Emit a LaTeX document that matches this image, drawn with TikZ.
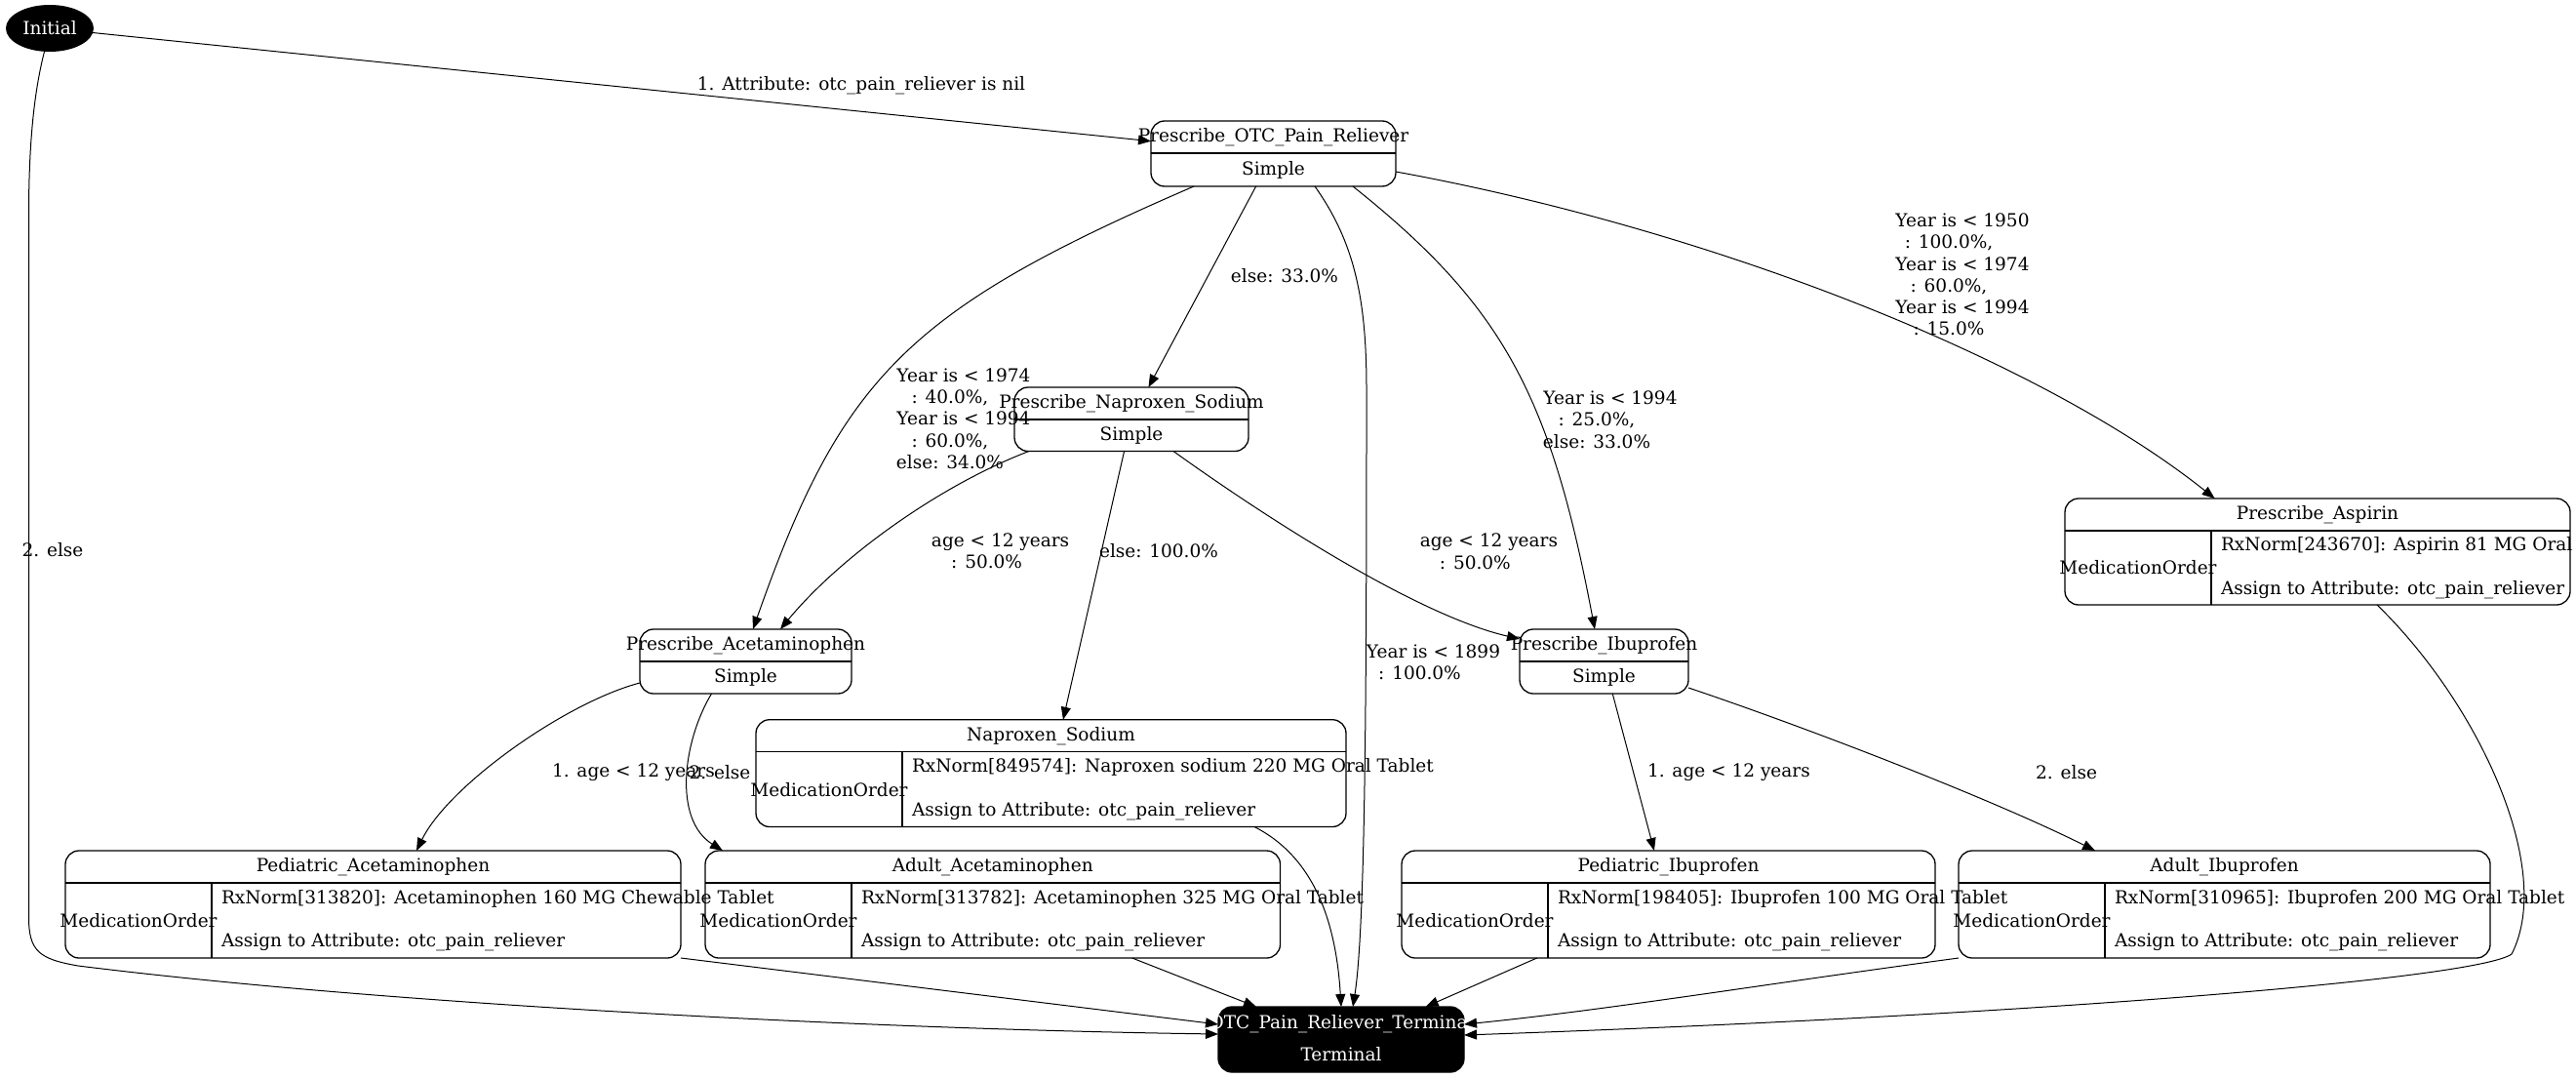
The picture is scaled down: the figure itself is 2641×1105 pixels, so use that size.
\documentclass[tikz,border=0pt]{standalone}
\usepackage{fontspec}
\setmainfont{DejaVu Serif}
\usetikzlibrary{arrows.meta,calc,shapes.geometric}

% a state with a name row and a "Simple" row
\newcommand\SimpleState[6]{%
  \node[box, minimum width={#4-#2}, minimum height={#5-#3}] (#1) at ({(#2+#4)/2},{(#3+#5)/2}) {};
  \draw[sep] ($(#1.north west)+(0,33)$) -- ($(#1.north east)+(0,33)$);
  \node[txt] (#1-name) at ($(#1.north)+(0,16.5)$) {#6};
  \node[txt] (#1-kind) at ({(#2+#4)/2},{(#3+33+#5)/2}) {Simple};
}
% a state with a name row and a MedicationOrder action row
\newcommand\ActionState[8]{%
  \node[box, minimum width={#4-#2}, minimum height={#5-#3}] (#1) at ({(#2+#4)/2},{(#3+#5)/2}) {};
  \draw[sep] ($(#1.north west)+(0,33)$) -- ($(#1.north east)+(0,33)$);
  \draw[sep] ($(#1.north west)+(150,33)$) -- ($(#1.south west)+(150,0)$);
  \node[txt] (#1-name) at ($(#1.north)+(0,16.5)$) {#6};
  \node[txt] (#1-type) at ({#2+75},{(#3+33+#5)/2}) {MedicationOrder};
  \node[txt, anchor=west, align=left] (#1-detail) at ({#2+160},{(#3+33+#5)/2}) {#7\\\mbox{}\\#8};
}
\newcommand\ShiftLine[1]{\hspace*{28pt}#1}

\begin{document}
\begin{tikzpicture}[x=1pt,y=-1pt,
  font=\fontsize{18.5}{22.3}\selectfont,
  box/.style={draw, line width=1.3pt, rounded corners=14pt, inner sep=0pt, outer sep=0pt},
  sep/.style={line width=1.1pt},
  txt/.style={inner sep=0pt, outer sep=0pt, align=center},
  lab/.style={inner sep=0pt, outer sep=0pt, align=center},
  edge/.style={line width=1pt, -{Triangle[length=13pt,width=10pt]}},
]
\useasboundingbox (0,0) rectangle (2641,1105);

% start and end states
\node[ellipse, fill=black, minimum width=90, minimum height=48, inner sep=0pt, outer sep=0pt, text=white] (init) at (51,29) {Initial};
\node[box, fill=black, minimum width=252, minimum height=67] (term) at (1375,1065.5) {};
\node[txt, text=white] (term-name) at (1375,1050) {OTC\_Pain\_Reliever\_Terminal};
\node[txt, text=white] (term-kind) at (1375,1081) {Terminal};

% decision states
\SimpleState{otc}{1180}{124}{1431}{191}{Prescribe\_OTC\_Pain\_Reliever}
\SimpleState{pnap}{1040}{397}{1280}{462.5}{Prescribe\_Naproxen\_Sodium}
\SimpleState{pacet}{656}{645}{873}{711}{Prescribe\_Acetaminophen}
\SimpleState{pibu}{1558}{645}{1731}{711}{Prescribe\_Ibuprofen}

% medication orders
\ActionState{asp}{2117}{511}{2635}{620}{Prescribe\_Aspirin}{RxNorm[243670]: Aspirin 81 MG Oral Tablet}{Assign to Attribute: otc\_pain\_reliever}
\ActionState{naps}{775}{737.7}{1380}{847.5}{Naproxen\_Sodium}{RxNorm[849574]: Naproxen sodium 220 MG Oral Tablet}{Assign to Attribute: otc\_pain\_reliever}
\ActionState{pedacet}{67}{872}{698}{982}{Pediatric\_Acetaminophen}{RxNorm[313820]: Acetaminophen 160 MG Chewable Tablet}{Assign to Attribute: otc\_pain\_reliever}
\ActionState{adultacet}{723}{872}{1312.5}{982}{Adult\_Acetaminophen}{RxNorm[313782]: Acetaminophen 325 MG Oral Tablet}{Assign to Attribute: otc\_pain\_reliever}
\ActionState{pedibu}{1437}{872}{1984}{982}{Pediatric\_Ibuprofen}{RxNorm[198405]: Ibuprofen 100 MG Oral Tablet}{Assign to Attribute: otc\_pain\_reliever}
\ActionState{adultibu}{2008}{872}{2553}{982}{Adult\_Ibuprofen}{RxNorm[310965]: Ibuprofen 200 MG Oral Tablet}{Assign to Attribute: otc\_pain\_reliever}

% transitions
\draw[edge] (init) -- (otc);
\draw[edge] (init.257) .. controls (36,90) and (29.5,140) .. (29.5,220) -- (29.5,940)
  .. controls (29.5,975) and (40,983) .. (80,990)
  .. controls (400,1030) and (900,1055) .. ($(term.north west)+(0,28)$);
\draw[edge] (otc) -- (pnap);
\draw[edge] ($(otc.south west)+(44,0)$) .. controls (931,317.5) and (863,386) .. ($(pacet.north west)+(116,0)$);
\draw[edge] ($(otc.south west)+(168,0)$) .. controls (1390,250) and (1401,310) .. (1401,400)
  .. controls (1401,700) and (1400,950) .. ($(term.north west)+(138,0)$);
\draw[edge] ($(otc.south west)+(207,0)$) .. controls (1540,313) and (1589.4,403.8) .. ($(pibu.north west)+(77,0)$);
\draw[edge] ($(otc.north east)+(0,52)$) .. controls (1759,236) and (2094,370) .. ($(asp.north west)+(153.6,0)$);
\draw[edge] ($(pnap.south west)+(15,0)$) .. controls (964.4,497) and (862,570) .. ($(pacet.north west)+(144,0)$);
\draw[edge] (pnap) -- (naps);
\draw[edge] ($(pnap.south west)+(163,0)$) .. controls (1290,525) and (1450,630) .. ($(pibu.north west)+(0,10)$);
\draw[edge] ($(pacet.north west)+(0,55)$) .. controls (580,720) and (460,805) .. ($(pedacet.north west)+(360,0)$);
\draw[edge] ($(pacet.south west)+(73.5,0)$) .. controls (700,760) and (690,840) .. ($(adultacet.north west)+(18,0)$);
\draw[edge] (pibu) -- (pedibu);
\draw[edge] ($(pibu.north east)+(0,60)$) .. controls (1850,745) and (2040,818) .. ($(adultibu.north west)+(140,0)$);
\draw[edge] (pedacet.south east) -- ($(term.north west)+(0,18)$);
\draw[edge] ($(adultacet.south west)+(437.7,0)$) -- ($(term.north west)+(39,0)$);
\draw[edge] ($(naps.south west)+(511,0)$) .. controls (1350,880) and (1370,950) .. ($(term.north west)+(126,0)$);
\draw[edge] ($(pedibu.south west)+(138.7,0)$) -- ($(term.north west)+(212.7,0)$);
\draw[edge] (adultibu.south west) .. controls (1800,1010) and (1650,1035) .. ($(term.north east)+(0,18)$);
\draw[edge] ($(asp.south west)+(320,0)$) .. controls (2540,720) and (2620,890) .. (2575,978)
  .. controls (2540,1003) and (2100,1040) .. ($(term.north east)+(0,29)$);

% transition labels
\node[lab] (l-init-otc) at (883,88) {1. Attribute: otc\_pain\_reliever is nil};
\node[lab] (l-init-term) at (54,564) {2. else};
\node[lab] (l-otc-pnap) at (1317,282.7) {else: 33.0\%};
\node[lab] (l-otc-pacet) at (974,429) {\ShiftLine{Year is < 1974}\\: 40.0\%,\\\ShiftLine{Year is < 1994}\\: 60.0\%,\\else: 34.0\%};
\node[lab] (l-otc-term) at (1455.5,678.5) {\ShiftLine{Year is < 1899}\\: 100.0\%};
\node[lab] (l-otc-pibu) at (1637,430) {\ShiftLine{Year is < 1994}\\: 25.0\%,\\else: 33.0\%};
\node[lab] (l-otc-asp) at (1998,281.5) {\ShiftLine{Year is < 1950}\\: 100.0\%,\\\ShiftLine{Year is < 1974}\\: 60.0\%,\\\ShiftLine{Year is < 1994}\\: 15.0\%};
\node[lab] (l-pnap-pacet) at (1011.6,565) {\ShiftLine{age < 12 years}\\: 50.0\%};
\node[lab] (l-pnap-naps) at (1188,564.3) {else: 100.0\%};
\node[lab] (l-pnap-pibu) at (1512.4,565.3) {\ShiftLine{age < 12 years}\\: 50.0\%};
\node[lab, anchor=west] (l-pacet-ped) at (566,792) {1. age < 12 years};
\node[lab] (l-pacet-adult) at (738,792) {2. else};
\node[lab, anchor=west] (l-pibu-ped) at (1689,792) {1. age < 12 years};
\node[lab] (l-pibu-adult) at (2118.6,792) {2. else};
\end{tikzpicture}
\end{document}
